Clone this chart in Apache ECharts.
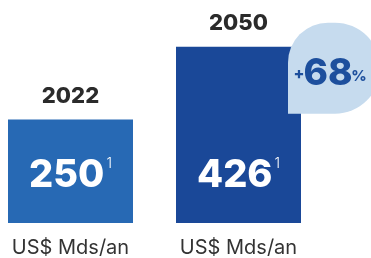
<!DOCTYPE html>
<html>
<head>
<meta charset="utf-8">
<script src="https://cdn.jsdelivr.net/npm/echarts@6/dist/echarts.min.js"></script>
<style>
  html, body { margin: 0; padding: 0; background: #fff; }
  #chart { width: 371px; height: 258px; }
</style>
</head>
<body>
<div id="chart"></div>
<script>
// data
const years = ['2022', '2050'];
const values = [250, 426];
const unitLabel = 'US$ Mds/an';
const growthLabel = '68';
const barColors = ['#2769b4', '#1a4898'];

const FONT = 'Inter';

const myChart = echarts.init(document.getElementById('chart'));

const option = {
  animation: false,
  grid: {
    left: 70.5,
    right: 132.5,
    top: 16,
    bottom: 34
  },
  xAxis: {
    type: 'category',
    data: years,
    boundaryGap: false,
    axisTick: { show: false },
    axisLine: { show: false },
    axisLabel: {
      margin: 15,
      fontFamily: FONT,
      fontSize: 20,
      color: '#333',
      formatter: () => unitLabel
    }
  },
  yAxis: {
    type: 'value',
    min: 0,
    max: 500,
    show: false,
    splitLine: { show: false }
  },
  series: [
    {
      type: 'bar',
      barWidth: 125,
      clip: false,
      data: values.map((v, i) => ({ value: v, itemStyle: { color: barColors[i] } })),
      label: {
        show: true,
        position: 'insideBottom',
        distance: 28,
        formatter: p => '{v|' + p.value + '}{s|1}',
        rich: {
          v: { fontFamily: FONT, fontWeight: 800, fontSize: 38, color: '#fff' },
          s: { fontFamily: FONT, fontWeight: 300, fontSize: 14, color: '#fff', verticalAlign: 'top', padding: [0, 0, 18, 2] }
        }
      }
    },
    {
      // transparent copy of the bars, carries the year above each bar
      type: 'bar',
      barWidth: 125,
      barGap: '-100%',
      clip: false,
      silent: true,
      data: values,
      itemStyle: { color: 'rgba(0,0,0,0)' },
      label: {
        show: true,
        position: 'top',
        distance: 12,
        formatter: p => p.name,
        fontFamily: FONT,
        fontWeight: 800,
        fontSize: 22,
        color: '#2b2b2b'
      }
    }
  ]
};

myChart.setOption(option, true);

// growth bubble next to the 2050 bar
const topRight = myChart.convertToPixel({ seriesIndex: 0 }, [1, values[1]]);
const bx = topRight[0] + 62.5 - 13;
const by = topRight[1] - 24;
myChart.setOption({
  graphic: [
    {
      type: 'rect',
      left: bx,
      top: by,
      shape: { width: 92, height: 91, r: [40, 45, 45, 0] },
      style: { fill: '#c6dbee' },
      z: 10
    },
    {
      type: 'text',
      x: bx + 11,
      y: by + 52,
      style: { text: '+', fill: '#1d4f9d', font: '800 16px ' + FONT, align: 'center', verticalAlign: 'middle' },
      z: 11
    },
    {
      type: 'text',
      x: bx + 40,
      y: by + 51,
      style: { text: growthLabel, fill: '#1d4f9d', font: '800 37px ' + FONT, align: 'center', verticalAlign: 'middle' },
      z: 11
    },
    {
      type: 'text',
      x: bx + 71,
      y: by + 54,
      style: { text: '%', fill: '#1d4f9d', font: '800 15px ' + FONT, align: 'center', verticalAlign: 'middle' },
      z: 11
    }
  ]
});
</script>
</body>
</html>
